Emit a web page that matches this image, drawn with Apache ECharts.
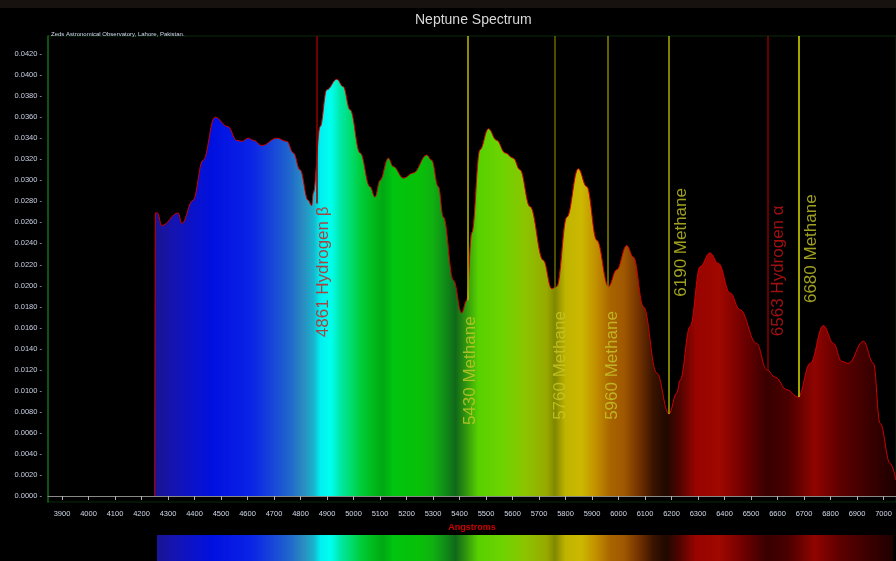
<!DOCTYPE html>
<html lang="en">
<head>
<meta charset="UTF-8">
<title>Neptune Spectrum</title>
<script src="https://cdn.jsdelivr.net/npm/echarts@6/dist/echarts.min.js"></script>
<style>
    html, body { margin: 0; background: #000; }
    #main { width: 896px; height: 561px; }
</style>
</head>
<body>
<div id="main"></div>
<script>
    // spectrum (Angstroms, relative flux)
    var wavelength = [4250, 4252, 4260, 4276, 4338, 4352, 4394, 4432, 4477, 4526, 4559, 4578, 4603, 4622, 4654,
        4710, 4748, 4773, 4798, 4829, 4842, 4848, 4874, 4899, 4937, 4961, 4987, 5025, 5062, 5081, 5100,
        5131, 5150, 5188, 5226, 5276, 5295, 5320, 5339, 5377, 5408, 5427, 5446, 5477, 5509, 5540, 5572,
        5603, 5628, 5666, 5716, 5748, 5767, 5805, 5848, 5880, 5918, 5962, 5993, 6031, 6056, 6094, 6144,
        6190, 6220, 6232, 6270, 6308, 6345, 6377, 6421, 6458, 6521, 6559, 6591, 6635, 6678, 6723, 6773,
        6811, 6842, 6867, 6924, 6962, 6987, 7025, 7047];
    var flux = [0, 0.0269, 0.0269, 0.0257, 0.0269, 0.0259, 0.0281, 0.0319, 0.0360, 0.0351, 0.0338, 0.0337, 0.0340, 0.0338, 0.0333,
        0.0340, 0.0337, 0.0326, 0.0310, 0.0281, 0.0276, 0.0288, 0.0351, 0.0386, 0.0396, 0.0389, 0.0367, 0.0326, 0.0294, 0.0284, 0.0300,
        0.0321, 0.0313, 0.0302, 0.0307, 0.0324, 0.0319, 0.0294, 0.0265, 0.0205, 0.0174, 0.0186, 0.0250, 0.0329, 0.0349, 0.0338, 0.0326,
        0.0321, 0.0310, 0.0275, 0.0224, 0.0197, 0.0199, 0.0265, 0.0311, 0.0294, 0.0243, 0.0199, 0.0215, 0.0238, 0.0227, 0.0180, 0.0117,
        0.0078, 0.0098, 0.0110, 0.0161, 0.0218, 0.0231, 0.0221, 0.0193, 0.0177, 0.0145, 0.0120, 0.0113, 0.0101, 0.0094, 0.0126, 0.0162,
        0.0145, 0.0128, 0.0126, 0.0147, 0.0126, 0.0069, 0.0031, 0.0015];

    var xTicks = [3900, 4000, 4100, 4200, 4300, 4400, 4500, 4600, 4700, 4800, 4900, 5000, 5100, 5200, 5300, 5400,
        5500, 5600, 5700, 5800, 5900, 6000, 6100, 6200, 6300, 6400, 6500, 6600, 6700, 6800, 6900, 7000];
    var yTicks = [0, 0.002, 0.004, 0.006, 0.008, 0.010, 0.012, 0.014, 0.016, 0.018, 0.020,
        0.022, 0.024, 0.026, 0.028, 0.030, 0.032, 0.034, 0.036, 0.038, 0.040, 0.042];

    // marked lines
    var markerWave = [4861, 5430, 5760, 5960, 6190, 6563, 6680];
    var markerName = ['4861 Hydrogen β', '5430 Methane', '5760 Methane', '5960 Methane', '6190 Methane', '6563 Hydrogen α', '6680 Methane'];
    var markerEnd = [0.0278, 0.0186, 0.0198, 0.0199, 0.0078, 0.0119, 0.0094];
    var labelWave = [4885, 5440, 5779, 5975, 6236, 6602, 6726];
    var labelFlux = [0.0213, 0.0119, 0.0124, 0.0124, 0.0241, 0.0214, 0.0235];
    var markerLineColor = ['#900000', '#c0b800', '#6a6600', '#868200', '#aaa800', '#880000', '#dcdc00'];
    var markerTextColor = ['#d01818', '#c8c828', '#c8c828', '#c8c828', '#c8c828', '#c81414', '#c8c828'];

    // colour of the light at each wavelength, as drawn under the curve
    var spectrum = [
        [4250, '#1a1490'], [4330, '#1414b4'], [4466, '#0010e0'], [4610, '#0a22e6'], [4700, '#1848d8'],
        [4760, '#2068cc'], [4810, '#2a8cc0'], [4850, '#18b4cc'], [4875, '#00f0f0'], [4915, '#00fff0'],
        [4950, '#00e8a8'], [4990, '#00dc70'], [5030, '#00cc38'], [5080, '#00b818'], [5110, '#00a814'],
        [5150, '#00c410'], [5250, '#08c008'], [5300, '#10b010'], [5350, '#108818'], [5385, '#106818'],
        [5420, '#2c9010'], [5470, '#58d000'], [5560, '#6cd400'], [5650, '#8cc400'], [5730, '#98a800'],
        [5760, '#808800'], [5800, '#c0b400'], [5860, '#ccb800'], [5920, '#c08c00'], [5970, '#a86400'],
        [6020, '#a05800'], [6080, '#703000'], [6130, '#3a1400'], [6180, '#200800'], [6230, '#500400'],
        [6290, '#980400'], [6380, '#a00800'], [6470, '#700000'], [6560, '#380000'], [6640, '#4a0000'],
        [6740, '#900400'], [6830, '#600000'], [6930, '#400000'], [7047, '#1c0000']
    ];

    var font = 'Liberation Sans, Arial, sans-serif';
    var yMin = -0.00057, yMax = 0.04371;

    var chart = echarts.init(document.getElementById('main'));

    var lineData = wavelength.map(function (w, i) { return [w, flux[i]]; });
    var markLines = markerWave.map(function (w, i) {
        return [
            { coord: [w, yMax], lineStyle: { color: markerLineColor[i], width: 1.5, type: 'solid' } },
            { coord: [w, markerEnd[i]] }
        ];
    });
    var labelData = markerName.map(function (n, i) {
        return { value: [labelWave[i], labelFlux[i]], name: n, label: { color: markerTextColor[i] } };
    });

    chart.setOption({
        backgroundColor: '#000',
        animation: false,
        title: [{
            text: 'Neptune Spectrum',
            left: 410, top: 8,
            textStyle: { color: '#d8d8d8', fontSize: 14, fontWeight: 'normal', fontFamily: font }
        }, {
            text: 'Zeds Astronomical Observatory, Lahore, Pakistan.',
            left: 46, top: 26,
            textStyle: { color: '#d0d8f0', fontSize: 6, fontWeight: 'normal', fontFamily: font }
        }],
        grid: { left: 48, right: 0, top: 36, bottom: 59, show: true, borderColor: '#082a0c', borderWidth: 1 },
        xAxis: {
            type: 'value', min: 3847, max: 7047,
            name: 'Angstroms', nameLocation: 'middle', nameGap: 21,
            nameTextStyle: { color: '#d00000', fontSize: 9, fontWeight: 'bold', fontFamily: font },
            axisLine: { lineStyle: { color: '#8a8a8a', width: 1 } },
            axisTick: { customValues: xTicks, length: 4, lineStyle: { color: '#b0b0b0' } },
            axisLabel: {
                customValues: xTicks, color: '#d0d8ea', fontSize: 7.5, margin: 8, fontFamily: font,
                formatter: function (v) { return String(v); }
            },
            splitLine: { show: false }
        },
        yAxis: {
            type: 'value', min: yMin, max: yMax,
            axisLine: { show: true, lineStyle: { color: '#0e6a14', width: 1.5 } },
            axisTick: { show: false },
            axisLabel: {
                customValues: yTicks, color: '#c8d0e4', fontSize: 7.5, margin: 6, fontFamily: font,
                formatter: function (v) { return v.toFixed(4) + ' -'; }
            },
            splitLine: { show: false }
        },
        series: [{
            id: 'flux',
            type: 'line',
            data: lineData,
            smooth: 0.4,
            smoothMonotone: 'x',
            symbol: 'none',
            lineStyle: { color: '#d00000', width: 1 },
            areaStyle: { color: '#00c000', opacity: 1 },
            markLine: {
                silent: true, symbol: 'none',
                label: { show: false },
                data: markLines
            },
            z: 2
        }, {
            type: 'scatter',
            data: labelData,
            symbolSize: 0,
            silent: true,
            label: {
                show: true, position: 'inside', rotate: 90,
                fontSize: 17, fontFamily: font,
                formatter: function (p) { return p.name; }
            },
            z: 5
        }]
    });

    // spectral gradient in pixel space, shared by the area and the strip underneath
    function px(w) { return chart.convertToPixel({ xAxisIndex: 0 }, w); }
    var x0 = px(spectrum[0][0]), x1 = px(spectrum[spectrum.length - 1][0]);
    var stops = spectrum.map(function (s) {
        return { offset: (px(s[0]) - x0) / (x1 - x0), color: s[1] };
    });
    var grad = new echarts.graphic.LinearGradient(x0, 0, x1, 0, stops, true);
    var stripL = px(4258), stripR = px(7036);

    chart.setOption({
        series: [{ id: 'flux', areaStyle: { color: grad, opacity: 1 } }],
        graphic: [
            { type: 'rect', shape: { x: 0, y: 0, width: 896, height: 8 }, style: { fill: '#17110f' } },
            { type: 'rect', shape: { x: stripL, y: 535, width: stripR - stripL, height: 26 }, style: { fill: grad } }
        ]
    });
</script>
</body>
</html>
